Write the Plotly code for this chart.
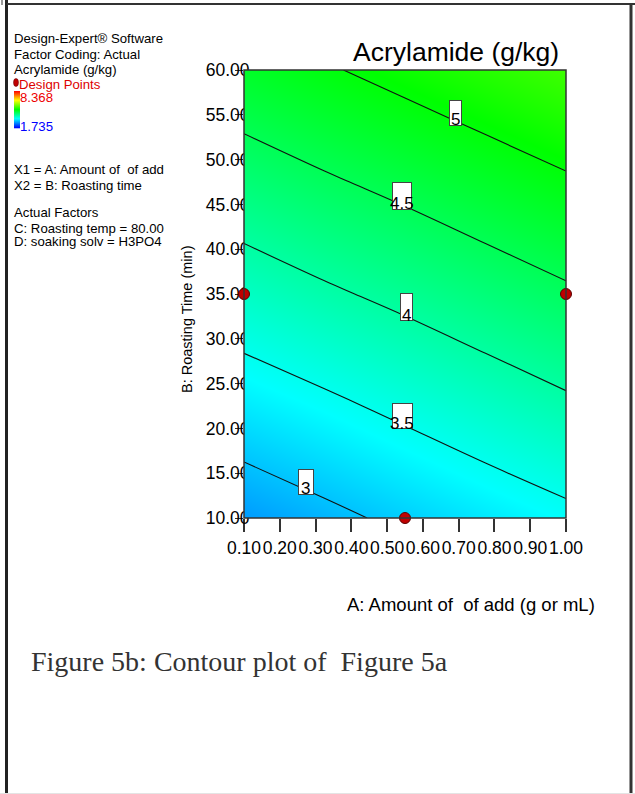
import numpy as np
import plotly.graph_objects as go
from plotly.colors import sample_colorscale

# ---------------- data ----------------
A_vals = [0.1, 0.325, 0.55, 0.775, 1.0]          # A: Amount of add
B_vals = [10.0, 22.5, 35.0, 47.5, 60.0]          # B: Roasting time
Z_vals = [                                       # Acrylamide (g/kg), rows = B
    [2.74, 2.91, 3.08, 3.25, 3.41],
    [3.26, 3.42, 3.59, 3.76, 3.93],
    [3.77, 3.94, 4.10, 4.27, 4.44],
    [4.28, 4.45, 4.61, 4.78, 4.95],
    [4.79, 4.96, 5.13, 5.30, 5.46],
]
design_A = [0.1, 1.0, 0.55]
design_B = [35.0, 35.0, 10.0]
contour_levels = [3, 3.5, 4, 4.5, 5]
level_text = ["3", "3.5", "4", "4.5", "5"]
label_A = [0.273, 0.542, 0.553, 0.542, 0.690]
label_box_w = [14, 19, 11, 18, 11]
label_box_h = [24, 24, 26, 26, 24]
x_ticks = [0.1, 0.2, 0.3, 0.4, 0.5, 0.6, 0.7, 0.8, 0.9, 1.0]
x_ticktext = ["0.10", "0.20", "0.30", "0.40", "0.50", "0.60", "0.70", "0.80", "0.90", "1.00"]
y_ticks = [10, 15, 20, 25, 30, 35, 40, 45, 50, 55, 60]
y_ticktext = ["10.00", "15.00", "20.00", "25.00", "30.00", "35.00", "40.00", "45.00", "50.00", "55.00", "60.00"]
z_low, z_high = 1.735, 8.368

# ---------------- layout geometry ----------------
W, H = 635, 794
ML, MR, MT, MB = 244, 69, 70, 276
PW, PH = W - ML - MR, H - MT - MB


def px(xp):
    return (xp - ML) / PW


def py(yp):
    return (H - MB - yp) / PH


FONT = "Arial, Liberation Sans, sans-serif"
scale = [[0.0, "#0000ff"], [0.25, "#00ffff"], [0.5, "#00ff00"], [0.75, "#ffff00"], [1.0, "#ff0000"]]

fig = go.Figure()
fig.add_trace(go.Contour(
    x=A_vals, y=B_vals, z=Z_vals,
    zmin=z_low, zmax=z_high, zauto=False,
    colorscale=scale, showscale=False,
    contours=dict(start=contour_levels[0], end=contour_levels[-1], size=0.5,
                  coloring="heatmap", showlabels=False),
    line=dict(color="#111111", width=1.1),
    hoverinfo="skip",
))
fig.add_trace(go.Scatter(
    x=design_A, y=design_B, mode="markers",
    marker=dict(size=11, color="#c00000", line=dict(color="#5a0000", width=1)),
    cliponaxis=False, showlegend=False, hoverinfo="skip",
))

# contour labels: position on each line computed from the grid
Zarr = np.array(Z_vals)
annotations = []
for lev, txt, a, bw, bh in zip(contour_levels, level_text, label_A, label_box_w, label_box_h):
    col = np.array([np.interp(a, A_vals, row) for row in Zarr])
    b = float(np.interp(lev, col, B_vals))
    annotations.append(dict(
        x=a, y=b, xref="x", yref="y", text=" ", showarrow=False,
        xanchor="center", yanchor="bottom", yshift=-5, width=bw, height=bh,
        bgcolor="white", bordercolor="#444444", borderwidth=1, borderpad=0,
        font=dict(family=FONT, size=8, color="black"),
    ))
    annotations.append(dict(
        x=a, y=b, xref="x", yref="y", text=txt, showarrow=False,
        xanchor="center", yanchor="middle", yshift=1,
        font=dict(family=FONT, size=17, color="black"),
    ))

# left information block
info = [
    ("Design-Expert® Software", 38.7, 12, "black"),
    ("Factor Coding: Actual", 54.3, 12, "black"),
    ("Acrylamide (g/kg)", 69.3, 12, "black"),
    ("Design Points", 84.7, 17, "#dd0000"),
    ("8.368", 97.5, 18, "#ee0000"),
    ("1.735", 126.3, 18, "#0000ff"),
    ("X1 = A: Amount of \u00a0of add", 169.3, 12, "black"),
    ("X2 = B: Roasting time", 185.3, 12, "black"),
    ("Actual Factors", 212.3, 12, "black"),
    ("C: Roasting temp = 80.00", 228.7, 12, "black"),
    ("D: soaking solv = H3PO4", 241.3, 12, "black"),
]
for txt, yy, xx, c in info:
    annotations.append(dict(
        x=px(xx), y=py(yy), xref="paper", yref="paper", text=txt, showarrow=False,
        xanchor="left", yanchor="middle", font=dict(family=FONT, size=13.2, color=c),
    ))

# title, axis titles, caption
annotations += [
    dict(x=px(456), y=py(52), xref="paper", yref="paper", text="Acrylamide (g/kg)",
         showarrow=False, xanchor="center", yanchor="middle",
         font=dict(family=FONT, size=26.5, color="black")),
    dict(x=px(187), y=py(320), xref="paper", yref="paper", text="B: Roasting Time (min)",
         showarrow=False, xanchor="center", yanchor="middle", textangle=-90,
         font=dict(family=FONT, size=14.5, color="black")),
    dict(x=px(597), y=py(604), xref="paper", yref="paper",
         text="A: Amount of \u00a0of add (g or mL)",
         showarrow=False, xanchor="right", yanchor="middle",
         font=dict(family=FONT, size=18.5, color="black")),
    dict(x=px(29), y=py(661), xref="paper", yref="paper",
         text="Figure 5b: Contour plot of \u00a0Figure 5a",
         showarrow=False, xanchor="left", yanchor="middle",
         font=dict(family="Liberation Serif, DejaVu Serif, serif", size=28, color="#333333")),
]

# page frame lines, plot frame, legend dot
shapes = [
    dict(type="line", xref="paper", yref="paper", x0=px(6.5), x1=px(6.5), y0=py(0), y1=py(H),
         line=dict(color="#222222", width=3)),
    dict(type="line", xref="paper", yref="paper", x0=px(631), x1=px(631), y0=py(3), y1=py(H),
         line=dict(color="#333333", width=3)),
    dict(type="line", xref="paper", yref="paper", x0=px(7), x1=px(W), y0=py(4), y1=py(4),
         line=dict(color="#333333", width=2)),
    dict(type="line", xref="paper", yref="paper", x0=px(2), x1=px(2), y0=py(0), y1=py(5),
         line=dict(color="#333333", width=1)),
    dict(type="line", xref="paper", yref="paper", x0=px(0), x1=px(W), y0=py(793.5), y1=py(793.5),
         line=dict(color="#e4e4e4", width=1)),
    dict(type="rect", xref="paper", yref="paper", x0=0, x1=1, y0=0, y1=1, layer="above",
         line=dict(color="#333333", width=1.5)),
    dict(type="circle", xref="paper", yref="paper", x0=px(13.5), x1=px(18.5), y0=py(78.5), y1=py(86.5),
         fillcolor="#c00000", line=dict(color="#5a0000", width=0.5)),
]

# small legend colour bar (red at top -> blue at bottom)
bar_top, bar_bot, bar_l, bar_r = 91, 128, 14, 20
nseg = 37
seg_cols = sample_colorscale(scale, [1 - (i + 0.5) / nseg for i in range(nseg)])
seg_h = (bar_bot - bar_top) / nseg
for i, c in enumerate(seg_cols):
    shapes.append(dict(type="rect", xref="paper", yref="paper",
                       x0=px(bar_l), x1=px(bar_r),
                       y0=py(bar_top + i * seg_h), y1=py(bar_top + (i + 1) * seg_h + 0.3),
                       fillcolor=c, line=dict(width=0)))

fig.update_layout(
    width=W, height=H,
    margin=dict(l=ML, r=MR, t=MT, b=MB),
    paper_bgcolor="white", plot_bgcolor="white",
    showlegend=False,
    annotations=annotations, shapes=shapes,
    xaxis=dict(range=[0.1, 1.0], tickvals=x_ticks, ticktext=x_ticktext, tickangle=0,
               ticks="outside", ticklen=13, tickwidth=1.5, tickcolor="#333333",
               showline=False, showgrid=False, zeroline=False, ticklabelstandoff=1,
               layer="below traces",
               tickfont=dict(family=FONT, size=17.5, color="black")),
    yaxis=dict(range=[10, 60], tickvals=y_ticks, ticktext=y_ticktext,
               ticks="outside", ticklen=8, tickwidth=1, tickcolor="#333333",
               showline=False, showgrid=False, zeroline=False, ticklabelstandoff=-18,
               layer="below traces",
               tickfont=dict(family=FONT, size=17.5, color="black")),
)

fig.write_html("out.html")
